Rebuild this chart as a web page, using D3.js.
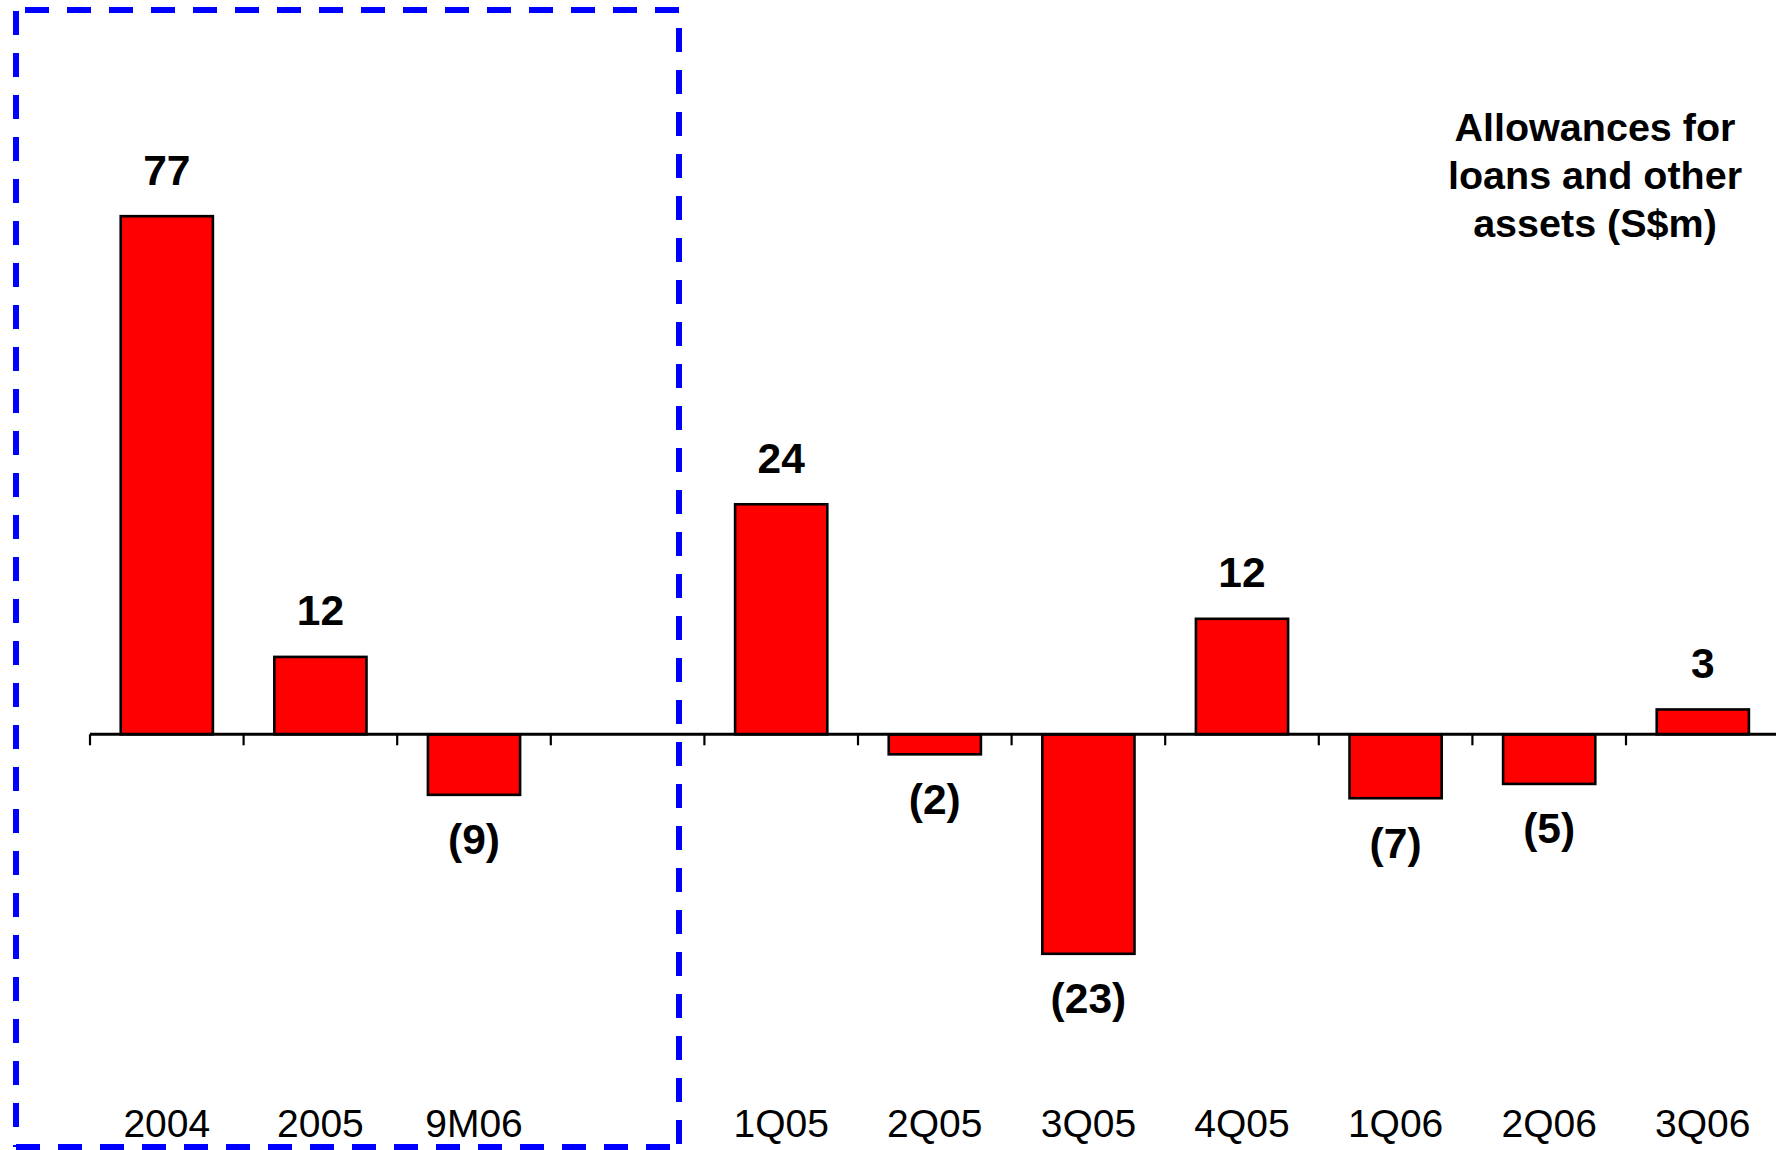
<!DOCTYPE html>
<html>
<head>
<meta charset="utf-8">
<script src="https://cdn.jsdelivr.net/npm/d3@7"></script>
<style>
  body { margin: 0; background: #fff; }
  svg { display: block; font-family: Arial, "Liberation Sans", Helvetica, sans-serif; }
</style>
</head>
<body>
<svg id="chart" width="1776" height="1150"></svg>
<script>
// annual totals (left panel, own scale)
const annualCategories = ["2004", "2005", "9M06"];
const annualValues = [77.0, 11.5, -9.0];

// quarterly figures (right panel, own scale)
const quarterCategories = ["1Q05", "2Q05", "3Q05", "4Q05", "1Q06", "2Q06", "3Q06"];
const quarterValues = [24.1, -2.1, -23.0, 12.1, -6.7, -5.2, 2.6];

const titleLines = ["Allowances for", "loans and other", "assets (S$m)"];

const W = 1776, H = 1150;
const svg = d3.select("#chart");

// one slot row: annual bars, an empty slot, quarterly bars
const slots = annualCategories.concat([""], quarterCategories);
const x = d3.scaleBand()
    .domain(d3.range(slots.length))
    .range([90, 90 + 153.6 * slots.length])
    .paddingInner(0)
    .paddingOuter(0);

const yAnnual = d3.scaleLinear().domain([-60, 80]).range([1138, 196]);
const yQuarter = d3.scaleLinear().domain([-42.3, 56.4]).range([1138, 196]);

const bars = [];
annualValues.forEach((v, i) => bars.push({ slot: i, value: v, y: yAnnual }));
quarterValues.forEach((v, i) => bars.push({ slot: annualCategories.length + 1 + i, value: v, y: yQuarter }));

const barW = x.bandwidth() * 0.6;
const fmt = v => {
    const r = Math.round(v);
    return r < 0 ? `(${-r})` : `${r}`;
};

// dashed box round the annual panel
const box = svg.append("g")
    .attr("stroke", "#0000ff")
    .attr("stroke-width", 6)
    .attr("stroke-dasharray", "24,18")
    .attr("fill", "none");
box.append("line").attr("x1", 25).attr("y1", 10).attr("x2", 679).attr("y2", 10);
box.append("line").attr("x1", 16).attr("y1", 11).attr("x2", 16).attr("y2", 1147);
box.append("line").attr("x1", 679).attr("y1", 28).attr("x2", 679).attr("y2", 1147);
box.append("line").attr("x1", 16).attr("y1", 1147).attr("x2", 679).attr("y2", 1147);

// bars
svg.append("g")
    .selectAll("rect")
    .data(bars)
    .enter().append("rect")
    .attr("x", d => x(d.slot) + (x.bandwidth() - barW) / 2)
    .attr("width", barW)
    .attr("y", d => Math.min(d.y(d.value), d.y(0)))
    .attr("height", d => Math.abs(d.y(d.value) - d.y(0)))
    .attr("fill", "#ff0000")
    .attr("stroke", "#000")
    .attr("stroke-width", 2.6);

// zero axis with ticks between slots
const zeroY = yAnnual(0);
const axis = d3.axisBottom(x)
    .tickValues(d3.range(slots.length))
    .tickSize(11)
    .tickSizeOuter(0)
    .tickFormat("");
const axisG = svg.append("g")
    .attr("transform", `translate(0,${zeroY})`)
    .call(axis);
axisG.select(".domain")
    .attr("d", `M90,0H${W}`)
    .attr("stroke", "#000")
    .attr("stroke-width", 3);
axisG.selectAll(".tick")
    .attr("transform", d => `translate(${x(d)},0)`);
axisG.selectAll(".tick line")
    .attr("stroke", "#000")
    .attr("stroke-width", 2.2);

// value labels
svg.append("g")
    .selectAll("text")
    .data(bars)
    .enter().append("text")
    .attr("x", d => x(d.slot) + x.bandwidth() / 2)
    .attr("y", d => d.value >= 0 ? d.y(d.value) - 31.5 : d.y(d.value) + 59.5)
    .attr("text-anchor", "middle")
    .attr("font-size", 42.5)
    .attr("font-weight", "bold")
    .attr("fill", "#000")
    .text(d => fmt(d.value));

// category labels
svg.append("g")
    .selectAll("text")
    .data(slots)
    .enter().append("text")
    .attr("x", (d, i) => x(i) + x.bandwidth() / 2)
    .attr("y", 1136.5)
    .attr("text-anchor", "middle")
    .attr("font-size", 39)
    .attr("fill", "#000")
    .text(d => d);

// title
svg.append("text")
    .attr("text-anchor", "middle")
    .attr("font-size", 39.5)
    .attr("font-weight", "bold")
    .attr("fill", "#000")
    .selectAll("tspan")
    .data(titleLines)
    .enter().append("tspan")
    .attr("x", 1595)
    .attr("y", (d, i) => 141 + i * 47.8)
    .text(d => d);
</script>
</body>
</html>
